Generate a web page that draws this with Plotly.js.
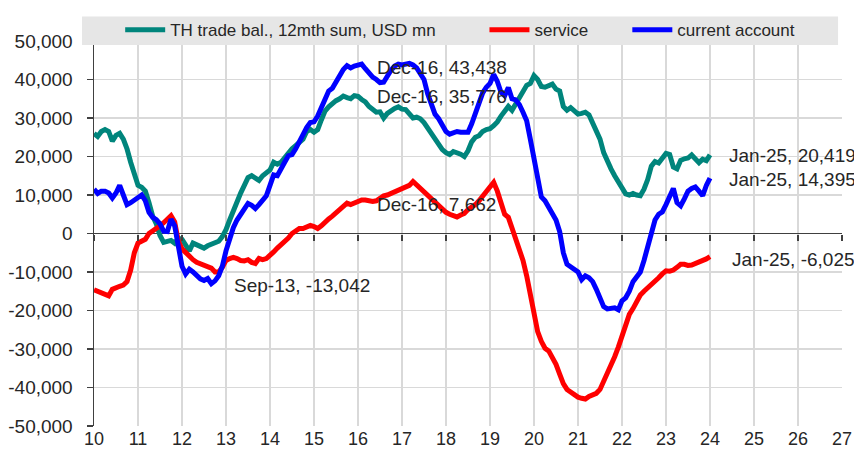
<!DOCTYPE html>
<html>
<head>
<meta charset="utf-8">
<script src="https://cdn.plot.ly/plotly-3.0.1.min.js"></script>
<style>html,body{margin:0;padding:0;background:#fff;}#chart{width:854px;height:467px;}</style>
</head>
<body>
<div id="chart"></div>
<script>
// Monthly series, Jan-2011 .. Jan-2025, values in USD thousand-million (x1000 = USD mn)
const seriesNames = ["TH trade bal., 12mth sum, USD mn", "service", "current account"];
const tradeBal = [
 26.0, 25.2, 26.5, 27.0, 26.5, 24.0, 25.5, 26.0, 24.5, 22.0,
 18.5, 15.5, 12.5, 12.0, 11.0, 8.0, 4.5, 2.5, -0.5, -2.3,
 -2.0, -1.8, -2.5, -1.2, -1.5, -2.8, -4.5, -2.5, -3.0, -3.5,
 -3.8, -3.2, -2.7, -2.5, -2.0, -0.8, 1.0, 3.5, 6.0, 8.5,
 10.5, 12.5, 14.5, 15.0, 14.5, 13.8, 15.0, 15.6, 16.5, 18.5,
 18.0, 18.5, 19.8, 21.2, 22.0, 22.8, 23.5, 24.5, 26.5, 27.0,
 26.3, 27.0, 29.5, 31.8, 32.9, 33.8, 34.5, 35.0, 35.7, 35.3,
 35.0, 35.8, 35.6, 34.8, 34.2, 33.0, 32.2, 31.5, 31.6, 30.0,
 31.2, 32.0, 32.5, 32.9, 32.3, 32.2, 31.0, 30.0, 30.2, 29.8,
 28.8, 27.3, 25.8, 24.8, 23.0, 21.8, 21.0, 20.5, 21.3, 21.0,
 20.6, 20.0, 21.5, 23.8, 25.0, 25.4, 26.5, 27.0, 27.2, 28.0,
 29.0, 30.5, 32.0, 33.0, 32.0, 33.5, 35.0, 37.0, 38.5, 39.0,
 41.0, 40.0, 38.2, 38.0, 38.5, 38.8, 37.5, 37.0, 33.0, 32.0,
 32.7, 32.0, 31.0, 31.2, 31.5, 30.8, 28.5, 26.5, 24.5, 21.0,
 18.5, 16.8, 15.0, 13.5, 12.0, 10.3, 10.0, 10.4, 10.0, 9.8,
 11.5, 14.0, 17.5, 18.7, 18.3, 19.5, 20.8, 20.5, 17.3, 16.8,
 19.0, 19.4, 19.6, 20.4, 19.5, 18.4, 19.3, 18.9, 20.419
];
const service = [
 -14.6, -15.0, -15.5, -16.0, -16.2, -14.5, -14.0, -13.7, -13.4, -12.5,
 -9.5, -5.0, -2.5, -2.0, -1.5, 0.0, 0.6, 1.2, 2.0, 2.8,
 3.8, 4.6, 3.0, -2.0, -4.0, -5.0, -5.8, -6.8, -7.5, -7.9,
 -8.0, -8.5, -9.0, -10.0, -10.0, -8.8, -7.0, -6.5, -6.2, -6.5,
 -7.0, -7.1, -6.8, -7.5, -7.8, -6.5, -6.8, -6.5, -5.8, -4.8,
 -3.8, -3.0, -2.1, -1.2, 0.0, 0.8, 1.3, 1.3, 1.8, 2.1,
 1.8, 1.3, 2.0, 3.0, 3.8, 4.5, 5.3, 6.3, 7.0, 7.9,
 7.5, 8.0, 8.4, 8.7, 8.7, 8.5, 8.3, 8.5, 9.2, 9.8,
 10.0, 10.4, 10.6, 11.0, 11.5, 12.0, 12.5, 13.5, 12.6, 11.8,
 11.0, 10.2, 9.3, 8.3, 7.5, 6.5, 5.5, 5.0, 4.6, 4.3,
 4.8, 5.2, 6.2, 6.8, 7.5, 8.5, 9.8, 11.0, 12.3, 13.3,
 11.0, 7.9, 5.0, 4.2, 1.5, -1.5, -3.5, -7.0, -11.0, -15.5,
 -21.0, -25.5, -28.0, -29.8, -30.5, -32.0, -34.0, -36.5, -39.0, -40.5,
 -41.3, -42.0, -42.5, -42.8, -43.0, -42.3, -41.8, -41.5, -40.5, -38.5,
 -36.5, -34.5, -32.0, -29.5, -26.5, -23.0, -21.0, -19.5, -17.5, -16.0,
 -15.0, -14.2, -13.5, -12.5, -11.5, -10.5, -9.7, -9.8, -9.5, -8.8,
 -8.0, -8.0, -8.3, -8.2, -7.8, -7.5, -7.2, -6.6, -6.025
];
const currentAccount = [
 11.5, 10.4, 11.0, 11.0, 10.5, 9.2, 10.5, 12.5, 10.0, 7.5,
 8.0, 8.6, 9.2, 10.0, 8.5, 5.5, 4.2, 3.6, 2.5, 0.6,
 0.5, 3.7, 2.0, -3.0, -8.5, -10.5, -9.3, -10.0, -11.0, -11.8,
 -12.2, -11.7, -13.042, -12.3, -11.0, -8.5, -4.5, -1.0, 1.5, 3.5,
 5.0, 6.3, 7.8, 7.3, 6.5, 7.5, 8.5, 9.8, 12.5, 15.2,
 15.0, 16.5, 18.5, 20.2, 20.5, 22.0, 24.0, 25.8, 27.5, 28.8,
 29.0, 30.5, 32.8, 35.0, 37.0, 37.7, 39.3, 41.3, 42.6, 43.6,
 43.0, 43.5, 43.8, 44.0, 42.8, 41.7, 40.6, 40.0, 39.2, 39.3,
 41.0, 42.4, 43.5, 44.0, 43.8, 44.0, 44.2, 43.8, 43.0, 41.5,
 40.0, 36.3, 33.5, 31.0, 29.8, 28.0, 26.5, 25.8, 26.2, 26.5,
 26.3, 26.2, 26.3, 28.5, 31.5, 34.5, 36.5, 38.0, 39.0, 41.3,
 39.5, 36.7, 35.8, 37.9, 35.0, 34.7, 33.5, 31.5, 29.3, 24.5,
 19.0, 13.5, 9.5, 8.5, 7.0, 5.5, 3.5, 0.5, -5.0, -8.0,
 -8.8, -9.2, -10.0, -12.0, -11.0, -11.5, -12.5, -14.5, -17.0, -19.0,
 -19.6, -19.5, -19.3, -19.8, -17.5, -16.7, -15.0, -12.5, -11.0, -10.0,
 -7.0, -3.5, 0.0, 3.5, 5.0, 5.6, 7.5, 10.0, 11.7, 8.0,
 7.2, 9.0, 11.0, 11.7, 12.1, 11.0, 9.8, 12.5, 14.395
];
const xTickVals = [10,11,12,13,14,15,16,17,18,19,20,21,22,23,24,25,26,27];
const xTickText = ["10","11","12","13","14","15","16","17","18","19","20","21","22","23","24","25","26","27"];
const yTickVals = [-50000,-40000,-30000,-20000,-10000,0,10000,20000,30000,40000,50000];
const yTickText = ["-50,000","-40,000","-30,000","-20,000","-10,000","0","10,000","20,000","30,000","40,000","50,000"];
const labelTexts = ["Dec-16, 43,438","Dec-16, 35,776","Dec-16, 7,662","Sep-13, -13,042","Jan-25, 20,419","Jan-25, 14,395","Jan-25, -6,025"];

// x position: axis unit per year, monthly steps starting at 10
const xMonths = tradeBal.map((_, i) => 10 + i / 12);
const toMn = a => a.map(v => v * 1000);

const FONT = "Liberation Sans, Arial, sans-serif";
const TXT = "#262626";

const traces = [
  {x: xMonths, y: toMn(tradeBal), name: seriesNames[0], type: "scatter", mode: "lines",
   line: {color: "#00857c", width: 5}, legend: "legend", hoverinfo: "skip"},
  {x: xMonths, y: toMn(service), name: seriesNames[1], type: "scatter", mode: "lines",
   line: {color: "#ff0000", width: 5}, legend: "legend2", hoverinfo: "skip"},
  {x: xMonths, y: toMn(currentAccount), name: seriesNames[2], type: "scatter", mode: "lines",
   line: {color: "#0000ff", width: 5}, legend: "legend3", hoverinfo: "skip"},
  {x: [], y: [], xaxis: "x2", yaxis: "y", showlegend: false, hoverinfo: "skip", type: "scatter", mode: "lines"}
];

const legendBase = {orientation: "h", yanchor: "middle", y: 1.028, xanchor: "left",
  bgcolor: "rgba(0,0,0,0)", borderwidth: 0, font: {family: FONT, size: 17, color: TXT}, itemwidth: 40};

const ann = (i, x, y) => ({text: labelTexts[i], x: x, y: y, xref: "x", yref: "y", showarrow: false,
  xanchor: "left", yanchor: "middle", font: {family: FONT, size: 19, color: TXT}});

const layout = {
  width: 854, height: 467,
  margin: {l: 94, r: 12, t: 33, b: 41, pad: 0},
  paper_bgcolor: "#ffffff", plot_bgcolor: "#ffffff",
  font: {family: FONT, color: TXT},
  xaxis: {range: [10, 27], tickmode: "array", tickvals: xTickVals, ticktext: xTickText,
    showgrid: true, gridcolor: "#d9d9d9", gridwidth: 1.5, zeroline: false, showline: false,
    ticks: "", tickfont: {family: FONT, size: 18, color: TXT}, fixedrange: true},
  xaxis2: {overlaying: "x", anchor: "free", position: 0.5, range: [10, 27], tickmode: "array",
    tickvals: xTickVals, showticklabels: false, ticks: "outside", ticklen: 6, tickwidth: 1.5,
    tickcolor: "#404040", showgrid: false, zeroline: false, showline: false, fixedrange: true},
  yaxis: {range: [-50000, 50000], tickmode: "array", tickvals: yTickVals, ticktext: yTickText,
    showgrid: true, gridcolor: "#d9d9d9", gridwidth: 1.5,
    zeroline: true, zerolinecolor: "#404040", zerolinewidth: 1.5,
    showline: true, linecolor: "#404040", linewidth: 1.5,
    ticks: "outside", ticklen: 6, tickwidth: 1.5, tickcolor: "#404040", ticklabelstandoff: 10,
    tickfont: {family: FONT, size: 19, color: TXT}, fixedrange: true},
  showlegend: true,
  legend: Object.assign({}, legendBase, {x: 0.035}),
  legend2: Object.assign({}, legendBase, {x: 0.522}),
  legend3: Object.assign({}, legendBase, {x: 0.713}),
  shapes: [{type: "rect", xref: "paper", yref: "paper", x0: -0.016, x1: 0.9947, y0: 0.9898, y1: 1.0636,
    fillcolor: "#e6e6e6", line: {width: 0}, layer: "above"}],
  annotations: [
    ann(0, 16.39, 43100), ann(1, 16.39, 35500), ann(2, 16.39, 7500), ann(3, 13.14, -13400),
    ann(4, 24.39, 20200), ann(5, 24.39, 14100), ann(6, 24.45, -6700)
  ]
};

Plotly.newPlot("chart", traces, layout, {displayModeBar: false, staticPlot: true});
</script>
</body>
</html>
